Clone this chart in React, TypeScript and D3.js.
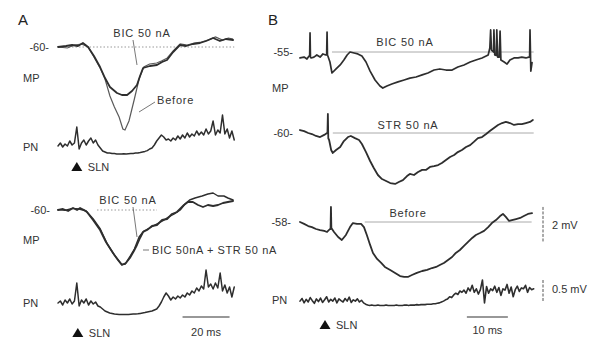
import React from "react";
import * as d3 from "d3";

type P = [number, number];

// ---------- Panel A (time in ms, deflection in mV from baseline) ----------
const A_BASE_LABELS = ["-60-", "-60-"];
const A_TOP_BIC: P[] = [
  [0, 0], [3.4, 0.05], [6, 0.1], [8.5, 0.05], [10.6, 0.2], [12.8, 0], [15.3, -0.45], [17.9, -1.0],
  [20, -1.55], [22.1, -2.0], [25.1, -2.3], [27.2, -2.4], [29.4, -2.4], [31.5, -2.2], [33.6, -1.9],
  [34.9, -1.45], [36.2, -1.05], [39.1, -0.95], [42.1, -0.9], [44.3, -0.75], [46.4, -0.65], [49, -0.25],
  [51.9, 0.1], [54.5, 0.05], [57.4, 0.15], [60.4, 0.2], [63, 0.3], [66, 0.45], [68.9, 0.3], [71.5, 0.4], [74.5, 0.35],
];
const A_TOP_BEFORE: P[] = [
  [0, 0], [4, -0.05], [7, 0.1], [10, 0.15], [12.8, 0], [15.3, -0.5], [17.9, -1.05], [20, -1.6],
  [22.1, -2.45], [24, -3.0], [26, -3.5], [27.6, -4.1], [28.5, -4.15], [30.2, -3.7], [32.5, -2.6],
  [34.5, -1.6], [36.5, -1.0], [39, -0.85], [42, -0.8], [44, -0.7], [46.5, -0.55], [49, -0.2], [52, 0.15],
  [55, 0.1], [58, 0.2], [61, 0.25], [64, 0.35], [67, 0.5], [70, 0.35], [72.5, 0.45], [74.5, 0.4],
];
// PN, sampled every 1 ms
const A_TOP_PN = [
  0.05, 0.2, 0.0, 0.15, 0.05, 0.3, 0.1, 0.2, 1.0, -0.1, 0.2, 0.35, 0.1, 0.3, 0.45, 0.2, 0.35, 0.1, -0.05, -0.2,
  -0.25, -0.3, -0.3, -0.32, -0.33, -0.35, -0.35, -0.35, -0.34, -0.35, -0.34, -0.33, -0.32, -0.3, -0.3, -0.28,
  -0.25, -0.22, -0.18, -0.1, -0.05, 0.1, 0.3, 0.45, 0.6, 0.5, 0.35, 0.4, 0.3, 0.45, 0.35, 0.55, 0.4, 0.6, 0.45,
  0.7, 0.5, 0.65, 0.55, 0.8, 0.6, 0.75, 0.6, 0.9, 0.65, 0.8, 1.3, 0.6, 0.85, 0.7, 1.6, 0.65, 0.9, 0.45, 0.8, 0.35,
];
const A_BOT_BICSTR: P[] = [
  [0, 0], [2.1, 0.05], [4.3, -0.05], [6.4, 0.1], [8.1, 0], [9.4, 0.1], [11.1, 0], [12.3, -0.1], [14.9, -0.5],
  [17.9, -1.0], [20.4, -1.6], [23.4, -2.15], [25.5, -2.5], [27.2, -2.75], [28.9, -2.65], [30.6, -2.4],
  [32.3, -2.05], [33.6, -1.75], [34.9, -1.4], [36.2, -1.1], [37.9, -1.0], [40, -0.8], [42.1, -0.75],
  [44.3, -0.5], [46.4, -0.45], [48.5, -0.2], [50.6, -0.1], [51.9, 0.05], [53.6, 0.25], [55.3, 0.4],
  [57.4, 0.4], [59.6, 0.25], [61.7, 0.15], [63.8, 0.25], [66, 0.2], [68.1, 0.25], [70.2, 0.35], [72.3, 0.4], [74.5, 0.45],
];
const A_BOT_BIC: P[] = [
  [0, 0.02], [3, -0.02], [6, 0.08], [9, 0.05], [12, -0.05], [15, -0.45], [18, -0.95], [21, -1.7], [24, -2.25],
  [27, -2.7], [28.5, -2.72], [30.5, -2.35], [32.5, -1.95], [34.5, -1.35], [36.5, -1.05], [39, -0.9], [42, -0.7],
  [44.5, -0.55], [47, -0.35], [49.5, -0.2], [52, 0.0], [54, 0.3], [56, 0.5], [58.3, 0.6], [61.3, 0.7],
  [63.8, 0.8], [66, 0.85], [68.1, 0.7], [70.6, 0.7], [72.3, 0.6], [74.5, 0.5],
];
const A_BOT_PN = [
  0.0, 0.1, -0.1, 0.15, 0.0, 0.2, -0.05, 0.1, 1.0, -0.15, 0.15, 0.0, 0.2, -0.1, 0.1, -0.05, 0.05, -0.15, -0.2,
  -0.3, -0.4, -0.45, -0.5, -0.52, -0.55, -0.56, -0.57, -0.58, -0.58, -0.58, -0.57, -0.56, -0.55, -0.55, -0.54,
  -0.52, -0.5, -0.48, -0.45, -0.42, -0.4, -0.35, -0.3, -0.15, 0.05, 0.3, 0.5, 0.35, 0.15, 0.3, 0.2, 0.35, 0.25,
  0.4, 0.3, 0.5, 0.4, 0.6, 0.5, 0.75, 0.6, 0.85, 0.7, 1.65, 0.8, 0.95, 0.7, 1.0, 0.75, 1.5, 0.6, 0.9, 0.5, 0.8, 0.3, 0.8,
];

// ---------- Panel B ----------
const B_BASE_LABELS = ["-55-", "-60-", "-58-"];
const B_BIC: P[] = [
  [0, -0.34], [1.0, -0.29], [1.7, -0.4], [2.2, -0.23], [2.35, -0.23], [2.45, 1.09], [2.55, -0.3], [2.7, -0.34],
  [3.4, -0.29], [4.1, -0.17], [4.9, -0.29], [5.6, -0.11], [6.3, -0.17], [6.5, -0.17], [6.6, 1.14], [6.7, -0.2],
  [6.8, -0.23], [7.3, -0.57], [7.8, -1.2], [8.8, -0.97], [9.8, -0.74], [10.7, -0.46], [11.5, -0.17], [12.2, 0],
  [13.2, -0.06], [14.1, -0.11], [15.1, -0.23], [16.1, -0.57], [17.1, -1.09], [18.3, -1.6], [19.5, -1.94],
  [20.2, -2.06], [21.2, -1.94], [22.4, -1.83], [23.9, -1.71], [25.4, -1.6], [26.8, -1.49], [28.3, -1.43],
  [29.8, -1.31], [31.2, -1.2], [32.7, -1.03], [34.1, -0.97], [35.6, -1.03], [37.1, -1.03], [38.5, -0.86],
  [40, -0.74], [41.5, -0.57], [42.9, -0.46], [44.4, -0.34], [45.9, -0.17], [46.3, 0.23], [46.5, 1.26],
  [46.7, 0.11], [47.2, 0.0], [47.3, 1.26], [47.5, -0.17], [47.9, -0.2], [48.0, 1.26], [48.2, -0.29],
  [48.6, -0.3], [48.8, 1.2], [49.0, -0.46], [49.8, -0.57], [50.5, -0.69], [51.2, -0.46], [52.2, -0.34],
  [53.2, -0.34], [54.1, -0.29], [55.1, -0.34], [55.8, -0.29], [56.0, -0.3], [56.1, 1.26], [56.3, -1.1], [56.6, -0.6],
];
const B_STR: P[] = [
  [0, 0.17], [1.0, 0.11], [2.0, 0], [2.9, -0.06], [3.9, -0.17], [4.9, -0.23], [5.9, -0.11], [6.6, 0], [6.7, 0],
  [6.8, 1.09], [6.9, -0.3], [7.1, -0.4], [7.6, -0.97], [8.0, -1.14], [8.8, -0.97], [9.8, -0.8], [10.7, -0.46],
  [11.7, -0.23], [12.4, -0.17], [13.4, -0.29], [14.4, -0.4], [15.1, -0.63], [16.1, -1.09], [17.1, -1.6],
  [18.0, -2.0], [19.0, -2.4], [20.0, -2.63], [21.0, -2.74], [22.0, -2.86], [23.2, -2.91], [24.1, -2.8],
  [25.1, -2.69], [26.1, -2.46], [26.8, -2.34], [27.8, -2.4], [28.8, -2.23], [29.8, -2.11], [30.7, -2.11],
  [31.7, -1.94], [32.7, -1.89], [33.7, -1.83], [34.6, -1.71], [35.6, -1.54], [36.6, -1.37], [37.6, -1.26],
  [38.5, -1.09], [39.5, -0.97], [40.5, -0.8], [41.5, -0.69], [42.4, -0.51], [43.4, -0.29], [44.4, -0.23],
  [45.4, -0.06], [46.3, 0.11], [47.3, 0.29], [48.3, 0.46], [49.3, 0.57], [50.2, 0.63], [51.2, 0.57],
  [52.2, 0.46], [53.2, 0.51], [54.1, 0.51], [55.1, 0.57], [56.1, 0.63], [56.8, 0.74],
];
const B_BEFORE: P[] = [
  [0, 0], [1.0, -0.11], [2.0, -0.23], [2.9, -0.29], [3.9, -0.4], [4.9, -0.46], [5.9, -0.51], [6.6, -0.57],
  [7.3, -0.4], [7.45, -0.4], [7.55, 0.86], [7.65, -0.34], [8.3, -0.57], [9.3, -0.86], [10.2, -1.03],
  [11.2, -0.74], [12.2, -0.29], [12.9, -0.06], [13.9, -0.11], [14.9, -0.11], [15.6, -0.29], [16.3, -0.74],
  [17.1, -1.31], [17.8, -1.77], [18.8, -2.11], [19.8, -2.34], [20.7, -2.57], [22.0, -2.74], [23.2, -2.91],
  [24.4, -3.09], [25.4, -3.14], [26.3, -3.14], [27.3, -3.03], [28.5, -2.91], [29.8, -2.8], [31.0, -2.74],
  [32.2, -2.63], [33.2, -2.57], [34.1, -2.46], [35.1, -2.34], [36.1, -2.17], [37.1, -2.0], [38.0, -1.77],
  [39.0, -1.6], [40.0, -1.37], [41.0, -1.14], [42.0, -0.91], [42.9, -0.74], [43.9, -0.63], [44.9, -0.51],
  [45.9, -0.29], [46.8, -0.06], [47.8, 0.11], [48.8, 0.34], [49.5, 0.46], [50.2, 0.29], [51.0, 0.06],
  [51.7, 0.11], [52.7, 0.17], [53.7, 0.23], [54.6, 0.34], [55.6, 0.46], [56.6, 0.51],
];
// PN, sampled every 0.5 ms (mV)
const B_PN = [
  0.02, 0.08, -0.02, 0.06, 0.0, 0.1, 0.03, -0.03, 0.07, 0.01, 0.09, -0.01, 0.05, 0.12, 0.0, 0.06, 0.02, 0.09,
  -0.02, 0.07, 0.03, 0.0, 0.08, 0.02, 0.11, -0.01, 0.05, 0.02, 0.07, 0.0, 0.04, -0.02,
  -0.05, -0.07, -0.08, -0.07, -0.08, -0.08, -0.07, -0.08, -0.08, -0.08, -0.07, -0.08, -0.08, -0.08, -0.08,
  -0.07, -0.08, -0.08, -0.08, -0.07, -0.07, -0.08, -0.07, -0.07, -0.07, -0.06, -0.07, -0.06, -0.06, -0.06,
  -0.05, -0.05, -0.05, -0.04, -0.04, -0.03, -0.02,
  0.0, 0.02, 0.05, 0.07, 0.12, 0.1, 0.16, 0.2, 0.17, 0.25, 0.22, 0.27,
  0.2, 0.32, 0.25, 0.38, 0.22, 0.3, 0.18, 0.28, 0.5, -0.02, 0.35, 0.2, 0.3, 0.26, 0.36, 0.22, 0.33, 0.15, 0.3,
  0.27, 0.4, 0.2, 0.34, 0.12, 0.28, 0.36, 0.24, 0.32, 0.3, 0.38, 0.22, 0.33, 0.28, 0.3,
];

const SCALE_A_MS = 20;
const SCALE_B_MS = 10;
const SCALE_B_MV = 2;
const SCALE_B_PN_MV = 0.5;
const SLN_T_A = 8;
const SLN_T_B = 6.1;

const FONT = "'Liberation Sans', Arial, Helvetica, sans-serif";
const INK = "#2e2e2e";

export default function App() {
  // Panel A scales
  const xA = d3.scaleLinear().domain([0, 75]).range([58, 234.25]);
  const yA1 = d3.scaleLinear().domain([0, -1]).range([47, 67]);
  const yApn1 = d3.scaleLinear().domain([0, -1]).range([147, 167]);
  const yA2 = d3.scaleLinear().domain([0, -1]).range([210, 230]);
  const yApn2 = d3.scaleLinear().domain([0, -1]).range([303, 323]);
  // Panel B scales
  const xB = d3.scaleLinear().domain([0, 10]).range([300, 341]);
  const yB1 = d3.scaleLinear().domain([0, 1]).range([52, 34.5]);
  const yB2 = d3.scaleLinear().domain([0, 1]).range([133, 115.5]);
  const yB3 = d3.scaleLinear().domain([0, 1]).range([222, 204.5]);
  const yBpn = d3.scaleLinear().domain([0, 0.5]).range([302, 280]);

  const lineP = (x: d3.ScaleLinear<number, number>, y: d3.ScaleLinear<number, number>) =>
    d3.line<P>().x((d) => x(d[0])).y((d) => y(d[1]));
  const lineS = (x: d3.ScaleLinear<number, number>, y: d3.ScaleLinear<number, number>, dt: number) =>
    d3.line<number>().x((_, i) => x(i * dt)).y((d) => y(d));

  const tr = { fill: "none", stroke: INK, strokeWidth: 1.8, strokeLinejoin: "round" as const, strokeLinecap: "round" as const };
  const txt = { fontFamily: FONT, fontSize: 11, fill: "#333" };
  const ann = { ...txt, letterSpacing: 0.8 };

  const tri = (cx: number, cy: number) => `M${cx},${cy - 5}L${cx + 5.5},${cy + 4}L${cx - 5.5},${cy + 4}Z`;

  return (
    <svg width={603} height={347} style={{ position: "absolute", left: 0, top: 0, background: "#fff" }}>
      {/* ===== Panel A ===== */}
      <text x={18} y={25} style={{ ...txt, fontSize: 15, fill: "#222" }}>A</text>

      {/* top */}
      <line x1={xA(0)} x2={xA(75)} y1={yA1(0)} y2={yA1(0)} stroke="#999" strokeWidth={1} strokeDasharray="1.5 2" />
      <text x={49} y={yA1(0) + 4} textAnchor="end" style={txt}>{A_BASE_LABELS[0]}</text>
      <text x={23} y={82} style={txt}>MP</text>
      <path d={lineP(xA, yA1)(A_TOP_BEFORE) || ""} fill="none" stroke="#5a5a5a" strokeWidth={1.2} />
      <path d={lineP(xA, yA1)(A_TOP_BIC) || ""} {...tr} />
      <text x={142} y={37} textAnchor="middle" style={ann}>BIC 50 nA</text>
      <line x1={133} y1={40} x2={137} y2={65} stroke="#555" strokeWidth={0.8} />
      <text x={157} y={104} style={ann}>Before</text>
      <line x1={155} y1={102} x2={139} y2={112} stroke="#555" strokeWidth={0.8} />
      <text x={23} y={151} style={txt}>PN</text>
      <path d={lineS(xA, yApn1, 1)(A_TOP_PN) || ""} {...tr} strokeWidth={1.5} />
      <path d={tri(xA(SLN_T_A), 167)} fill="#111" />
      <text x={xA(SLN_T_A) + 11} y={171} style={txt}>SLN</text>

      {/* bottom */}
      <line x1={97} x2={157} y1={yA2(0)} y2={yA2(0)} stroke="#999" strokeWidth={1} strokeDasharray="1.5 2" />
      <text x={50} y={yA2(0) + 4} textAnchor="end" style={txt}>{A_BASE_LABELS[1]}</text>
      <text x={23} y={244} style={txt}>MP</text>
      <path d={lineP(xA, yA2)(A_BOT_BIC) || ""} {...tr} strokeWidth={1.4} />
      <path d={lineP(xA, yA2)(A_BOT_BICSTR) || ""} {...tr} />
      <text x={128} y={204} textAnchor="middle" style={ann}>BIC 50 nA</text>
      <line x1={133} y1={207} x2={137} y2={237} stroke="#555" strokeWidth={0.8} />
      <line x1={143} y1={250} x2={149} y2={250} stroke="#555" strokeWidth={0.8} />
      <text x={152} y={254} style={{ ...ann, letterSpacing: 0.6 }}>BIC 50nA + STR 50 nA</text>
      <text x={23} y={307} style={txt}>PN</text>
      <path d={lineS(xA, yApn2, 1)(A_BOT_PN) || ""} {...tr} strokeWidth={1.5} />
      <path d={tri(xA(SLN_T_A) + 1, 333)} fill="#111" />
      <text x={xA(SLN_T_A) + 12} y={337} style={txt}>SLN</text>
      <line x1={xA(53)} x2={xA(53 + SCALE_A_MS)} y1={317} y2={317} stroke="#333" strokeWidth={1.2} />
      <text x={xA(53 + SCALE_A_MS / 2)} y={336} textAnchor="middle" style={txt}>{`${SCALE_A_MS} ms`}</text>

      {/* ===== Panel B ===== */}
      <text x={268} y={25} style={{ ...txt, fontSize: 15, fill: "#222" }}>B</text>

      <line x1={xB(7.8)} x2={xB(57)} y1={yB1(0)} y2={yB1(0)} stroke="#aaa" strokeWidth={1} />
      <text x={293} y={yB1(0) + 4} textAnchor="end" style={txt}>{B_BASE_LABELS[0]}</text>
      <text x={272} y={92} style={txt}>MP</text>
      <path d={lineP(xB, yB1)(B_BIC) || ""} {...tr} strokeWidth={1.7} />
      <text x={405} y={46} textAnchor="middle" style={ann}>BIC 50 nA</text>

      <line x1={xB(8)} x2={xB(57)} y1={yB2(0)} y2={yB2(0)} stroke="#aaa" strokeWidth={1} />
      <text x={293} y={yB2(0) + 4} textAnchor="end" style={txt}>{B_BASE_LABELS[1]}</text>
      <path d={lineP(xB, yB2)(B_STR) || ""} {...tr} />
      <text x={408} y={129} textAnchor="middle" style={ann}>STR 50 nA</text>

      <line x1={xB(15.8)} x2={xB(56.5)} y1={yB3(0)} y2={yB3(0)} stroke="#aaa" strokeWidth={1} />
      <text x={291} y={yB3(0) + 4} textAnchor="end" style={txt}>{B_BASE_LABELS[2]}</text>
      <path d={lineP(xB, yB3)(B_BEFORE) || ""} {...tr} />
      <text x={408} y={217} textAnchor="middle" style={ann}>Before</text>

      <line x1={543} x2={543} y1={yB3(0.86)} y2={yB3(0.86 - SCALE_B_MV)} stroke="#555" strokeWidth={1} strokeDasharray="3 1.5" />
      <text x={552} y={229} style={txt}>{`${SCALE_B_MV} mV`}</text>
      <line x1={543} x2={543} y1={yBpn(SCALE_B_PN_MV)} y2={yBpn(0)} stroke="#555" strokeWidth={1} strokeDasharray="3 1.5" />
      <text x={552} y={293} style={txt}>{`${SCALE_B_PN_MV} mV`}</text>

      <text x={272} y={304} style={txt}>PN</text>
      <path d={lineS(xB, yBpn, 0.5)(B_PN) || ""} {...tr} strokeWidth={1.6} />
      <path d={tri(xB(SLN_T_B), 325)} fill="#111" />
      <text x={xB(SLN_T_B) + 11} y={329} style={txt}>SLN</text>
      <line x1={xB(40.7)} x2={xB(40.7 + SCALE_B_MS)} y1={317} y2={317} stroke="#333" strokeWidth={1.2} />
      <text x={xB(40.7 + SCALE_B_MS / 2)} y={334} textAnchor="middle" style={txt}>{`${SCALE_B_MS} ms`}</text>
    </svg>
  );
}
